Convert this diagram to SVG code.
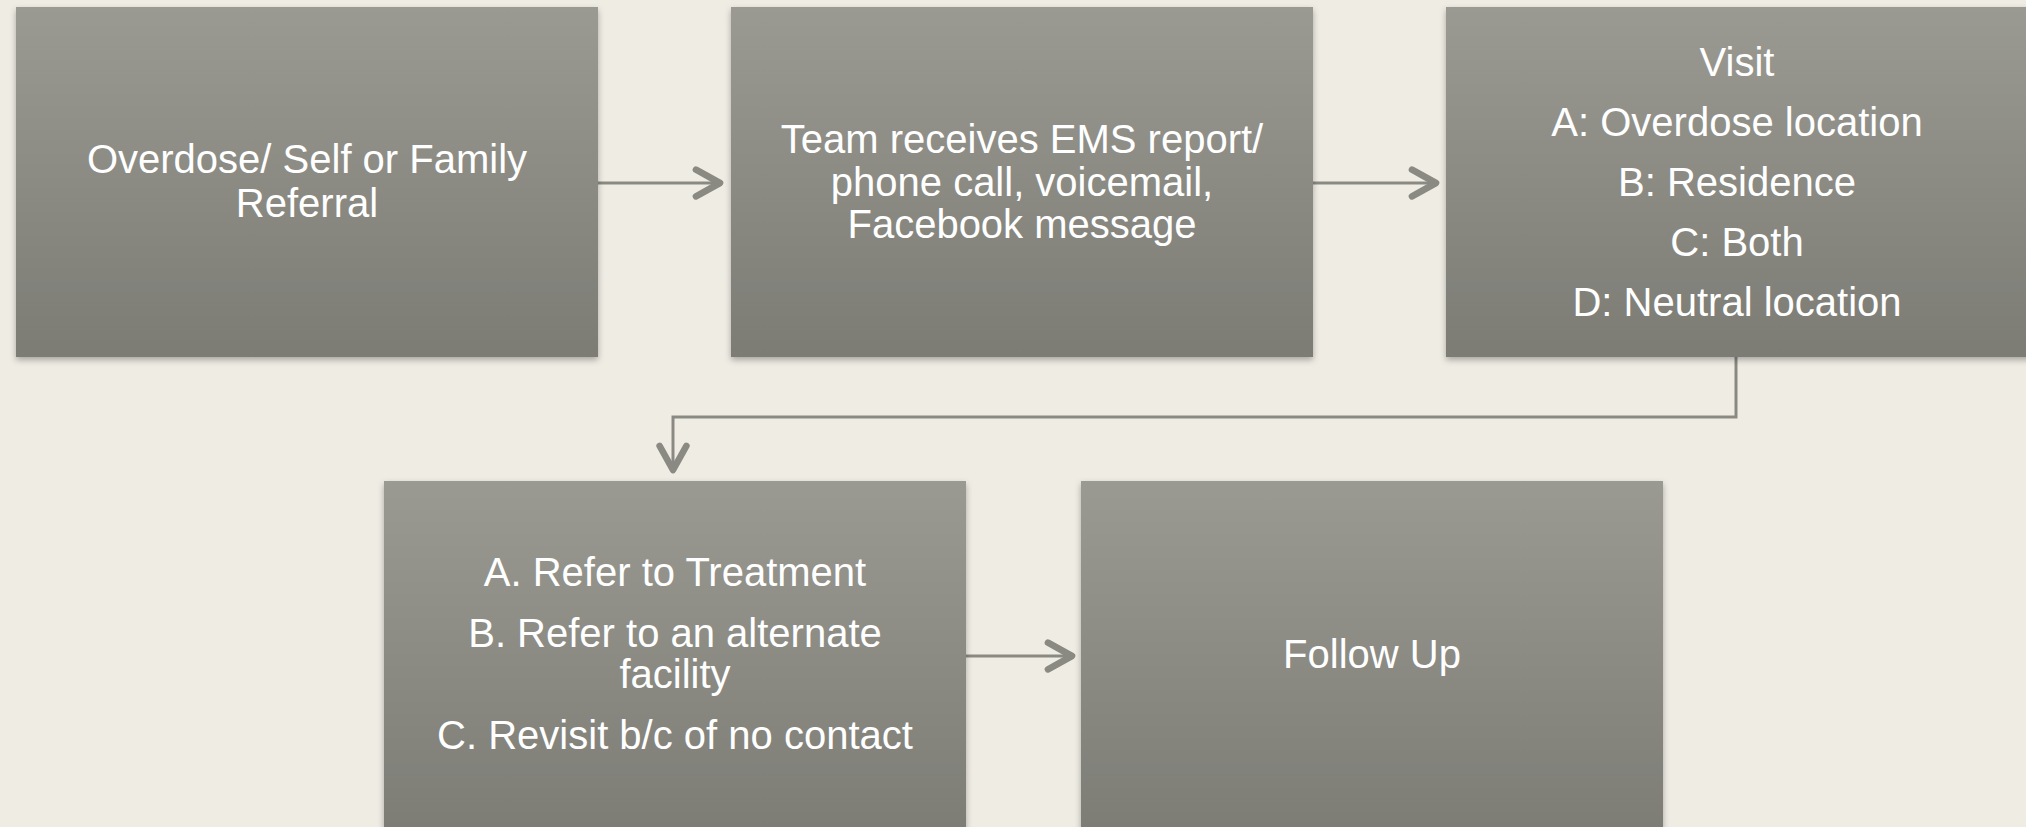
<svg xmlns="http://www.w3.org/2000/svg" width="2026" height="827" viewBox="0 0 2026 827">
<defs>
<linearGradient id="g" x1="0" y1="0" x2="0" y2="1">
<stop offset="0" stop-color="#9a9a93"/>
<stop offset="1" stop-color="#7c7c75"/>
</linearGradient>
<filter id="sh" x="-5%" y="-5%" width="110%" height="115%">
<feDropShadow dx="0" dy="3" stdDeviation="3" flood-color="#000" flood-opacity="0.3"/>
</filter>
<marker id="ah" markerUnits="userSpaceOnUse" markerWidth="40" markerHeight="40" refX="0" refY="0" viewBox="-25 -15 30 30" orient="auto" overflow="visible">
<path d="M-18,-10 L0,0 L-18,10" fill="none" stroke="#8a8a83" stroke-width="5" stroke-linecap="round" stroke-linejoin="round"/>
</marker>
<style>
.box{fill:url(#g);filter:url(#sh);}
.t{font-family:"Liberation Sans",Arial,sans-serif;font-size:40px;fill:#ffffff;text-anchor:middle;}
.c{fill:none;stroke:#8a8a83;stroke-width:3;marker-end:url(#ah);}
</style>
</defs>
<rect width="2026" height="827" fill="#efece4"/>
<g id="connectors">
<path class="c" d="M598,183 H720"/>
<path class="c" d="M1313,183 H1436"/>
<path class="c" d="M1736,357 V417 H673 V470"/>
<path class="c" d="M966,656 H1072"/>
</g>
<g id="n1">
<rect class="box" x="16" y="7" width="582" height="350"/>
<text class="t" x="307" y="173">Overdose/ Self or Family</text>
<text class="t" x="307" y="217">Referral</text>
</g>
<g id="n2">
<rect class="box" x="731" y="7" width="582" height="350"/>
<text class="t" x="1022" y="153">Team receives EMS report/</text>
<text class="t" x="1022" y="196">phone call, voicemail,</text>
<text class="t" x="1022" y="238">Facebook message</text>
</g>
<g id="n3">
<rect class="box" x="1446" y="7" width="590" height="350"/>
<text class="t" x="1737" y="76">Visit</text>
<text class="t" x="1737" y="136">A: Overdose location</text>
<text class="t" x="1737" y="196">B: Residence</text>
<text class="t" x="1737" y="256">C: Both</text>
<text class="t" x="1737" y="316">D: Neutral location</text>
</g>
<g id="n4">
<rect class="box" x="384" y="481" width="582" height="360"/>
<text class="t" x="675" y="586">A. Refer to Treatment</text>
<text class="t" x="675" y="647">B. Refer to an alternate</text>
<text class="t" x="675" y="688">facility</text>
<text class="t" x="675" y="749">C. Revisit b/c of no contact</text>
</g>
<g id="n5">
<rect class="box" x="1081" y="481" width="582" height="360"/>
<text class="t" x="1372" y="668">Follow Up</text>
</g>
</svg>
